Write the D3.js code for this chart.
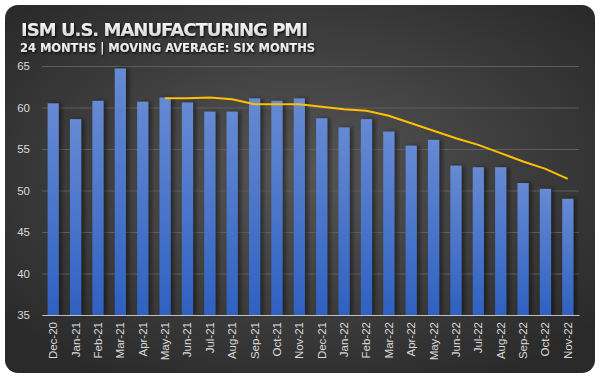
<!DOCTYPE html>
<html>
<head>
<meta charset="utf-8">
<script src="https://cdn.jsdelivr.net/npm/d3@7"></script>
<style>
  html, body { margin: 0; padding: 0; background: #fff; }
  svg { display: block; }
</style>
</head>
<body>
<div id="chart"></div>
<script>
// --- ISM PMI data ---
const months = ["Dec-20","Jan-21","Feb-21","Mar-21","Apr-21","May-21","Jun-21","Jul-21","Aug-21","Sep-21","Oct-21","Nov-21",
                "Dec-21","Jan-22","Feb-22","Mar-22","Apr-22","May-22","Jun-22","Jul-22","Aug-22","Sep-22","Oct-22","Nov-22"];
const pmi = [60.5,58.6,60.8,64.7,60.7,61.2,60.6,59.5,59.5,61.1,60.8,61.1,
             58.7,57.6,58.6,57.1,55.4,56.1,53.0,52.8,52.8,50.9,50.2,49.0];
// six month moving average (starts at May-21)
const maMonths = months.slice(5);
const movingAvg = [61.1,61.1,61.2,61.0,60.4,60.4,60.4,60.1,59.8,59.6,59.0,58.1,57.2,56.3,55.5,54.5,53.5,52.6,51.4];
const yTicks = [35,40,45,50,55,60,65];

(function(){
  const W = 600, H = 377;
  const margin = { top: 66, right: 21, bottom: 62, left: 42 };
  const width = W - margin.left - margin.right;
  const height = H - margin.top - margin.bottom;

  const svg = d3.select("#chart").append("svg")
      .attr("width", W).attr("height", H);

  const defs = svg.append("defs");
  const bg = defs.append("radialGradient").attr("id", "bg")
      .attr("cx", "50%").attr("cy", "45%").attr("r", "65%");
  bg.append("stop").attr("offset", "0%").attr("stop-color", "#565656");
  bg.append("stop").attr("offset", "100%").attr("stop-color", "#2a2a2a");

  const barGrad = defs.append("linearGradient").attr("id", "barGrad")
      .attr("x1", 0).attr("y1", 0).attr("x2", 0).attr("y2", 1);
  barGrad.append("stop").attr("offset", "0%").attr("stop-color", "#668ad3");
  barGrad.append("stop").attr("offset", "100%").attr("stop-color", "#2f61c1");

  const titleGrad = defs.append("linearGradient").attr("id", "titleGrad")
      .attr("x1", 0).attr("y1", 0).attr("x2", 0).attr("y2", 1);
  titleGrad.append("stop").attr("offset", "0%").attr("stop-color", "#ffffff");
  titleGrad.append("stop").attr("offset", "100%").attr("stop-color", "#d0d0d0");

  const shadow = defs.append("filter").attr("id", "shadow")
      .attr("x", "-50%").attr("y", "-10%").attr("width", "200%").attr("height", "120%");
  shadow.append("feDropShadow").attr("dx", 3).attr("dy", 0).attr("stdDeviation", 2)
      .attr("flood-color", "#000").attr("flood-opacity", 0.45);

  const textShadow = defs.append("filter").attr("id", "tshadow");
  textShadow.append("feDropShadow").attr("dx", 1).attr("dy", 1.5).attr("stdDeviation", 1)
      .attr("flood-color", "#000").attr("flood-opacity", 0.8);

  // card
  svg.append("rect").attr("x", 5).attr("y", 5).attr("width", 590).attr("height", 368)
      .attr("rx", 13).attr("fill", "url(#bg)");

  // titles
  svg.append("text").attr("x", 21).attr("y", 36)
      .attr("fill", "url(#titleGrad)").attr("filter", "url(#tshadow)")
      .style("font-family", "'DejaVu Sans', sans-serif")
      .style("font-weight", "bold").style("font-size", "18px")
      .attr("textLength", 287).attr("lengthAdjust", "spacing")
      .text("ISM U.S. MANUFACTURING PMI");

  svg.append("text").attr("x", 20).attr("y", 52)
      .attr("fill", "url(#titleGrad)").attr("filter", "url(#tshadow)")
      .style("font-family", "'DejaVu Sans', sans-serif")
      .style("font-weight", "bold").style("font-size", "11.5px")
      .attr("textLength", 295).attr("lengthAdjust", "spacing")
      .text("24 MONTHS | MOVING AVERAGE: SIX MONTHS");

  const g = svg.append("g").attr("transform", `translate(${margin.left},${margin.top})`);

  // --- Scales ---
  const x = d3.scaleBand().domain(months).range([0, width]).paddingInner(0.5).paddingOuter(0.25);
  const y = d3.scaleLinear().domain([35, 65]).range([height, 0]);

  // gridlines
  g.append("g")
    .call(d3.axisLeft(y).tickValues(yTicks).tickSize(-width).tickFormat(""))
    .call(a => a.select(".domain").remove())
    .call(a => a.selectAll("line").attr("stroke", "#5e5e5e").attr("stroke-width", 1));

  // y labels
  g.append("g")
    .call(d3.axisLeft(y).tickValues(yTicks).tickSize(0).tickPadding(12))
    .call(a => a.select(".domain").remove())
    .call(a => a.selectAll("text").attr("fill", "#d9d9d9")
        .style("font-family", "'Liberation Sans', Arial, sans-serif").style("font-size", "11.5px"));

  // bars
  g.selectAll(".bar").data(pmi).join("rect")
    .attr("class", "bar")
    .attr("x", (d, i) => x(months[i]))
    .attr("width", x.bandwidth())
    .attr("y", d => y(d))
    .attr("height", d => height - y(d))
    .attr("fill", "url(#barGrad)")
    .attr("filter", "url(#shadow)");

  // x axis
  g.append("g").attr("transform", `translate(0,${height})`)
    .call(d3.axisBottom(x).tickSize(0).tickPadding(0))
    .call(a => a.select(".domain").attr("stroke", "#bfbfbf").attr("stroke-width", 1.2))
    .call(a => a.selectAll("text")
        .attr("fill", "#d9d9d9")
        .style("font-family", "'Liberation Sans', Arial, sans-serif").style("font-size", "11.5px")
        .attr("text-anchor", "end")
        .attr("transform", "rotate(-90)")
        .attr("x", -7).attr("y", 0).attr("dy", "0.35em"));

  // moving average line
  const line = d3.line()
    .x((d, i) => x(maMonths[i]) + x.bandwidth() / 2)
    .y(d => y(d));
  g.append("path").datum(movingAvg)
    .attr("d", line)
    .attr("fill", "none")
    .attr("stroke", "#ffc000")
    .attr("stroke-width", 2);
})();
</script>
</body>
</html>
